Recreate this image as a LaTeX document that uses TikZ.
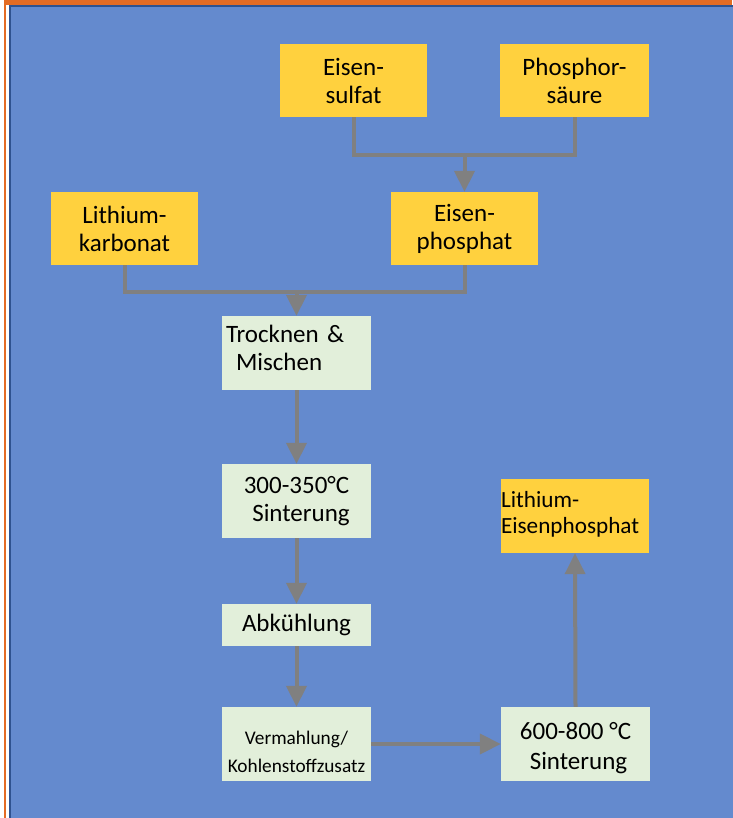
\documentclass[tikz,border=0pt]{standalone}
\usepackage{fontspec}
\setmainfont{Carlito}
\usetikzlibrary{arrows.meta}
\definecolor{bgblue}{RGB}{100,138,206}
\definecolor{bordblue}{RGB}{47,82,143}
\definecolor{frameorange}{RGB}{228,108,36}
\definecolor{boxyellow}{RGB}{255,209,62}
\definecolor{boxgreen}{RGB}{226,239,218}
\definecolor{conngray}{RGB}{128,128,128}
\begin{document}
\begin{tikzpicture}[x=1pt,y=-1pt,
  ybox/.style={fill=boxyellow, inner sep=0pt, minimum width=147pt, minimum height=73pt, align=center, font=\fontsize{25}{28}\selectfont},
  gbox/.style={fill=boxgreen, inner sep=0pt, minimum width=149pt, minimum height=74pt, align=center, font=\fontsize{25}{28}\selectfont},
  conn/.style={draw=conngray, line width=4pt},
  arr/.style={conn, -{Triangle[width=20pt,length=21pt]}}
]
\useasboundingbox (0,0) rectangle (732,818);
% frame
\fill[white] (0,0) rectangle (732,818);
\fill[frameorange] (4,0) rectangle (732,5);
\draw[frameorange, line width=1.5pt] (5,0) -- (5,818);
\fill[bgblue] (9,5) rectangle (740,830);
\draw[bordblue, line width=2pt] (10,830) -- (10,6) -- (740,6);
% nodes
\node[ybox] (sulfat) at (353.5,80.5) {Eisen-\\sulfat};
\node[ybox, minimum width=149pt] (phos) at (574.5,80.5) {Phosphor-\\säure};
\node[ybox] (lkarb) at (124.5,228.5) {Lithium-\\karbonat};
\node[ybox] (ephos) at (464.5,228.5) {Eisen-\\phosphat};
\node[gbox, align=left, text width=149pt] (trock) at (296.5,353) {\hspace*{4pt}Trocknen \&\\\hspace*{14pt}Mischen\rule[-10pt]{0pt}{0pt}};
\node[gbox] (sint1) at (296.5,501) {300-350°C\\\hspace*{9pt}Sinterung};
\node[gbox, minimum height=42pt] (abk) at (296.5,625) {Abkühlung};
\node[gbox, font=\fontsize{19.3}{28}\selectfont] (verm) at (296.5,744) {\rule{0pt}{30pt}Vermahlung/\\Kohlenstoffzusatz};
\node[gbox, font=\fontsize{25}{30}\selectfont] (sint2) at (575.5,744) {\rule{0pt}{26pt}600-800 °C\\\hspace*{6pt}Sinterung};
\node[ybox, minimum width=148pt, minimum height=74pt, align=left, text width=148pt, font=\fontsize{23.2}{26}\selectfont] (lfp) at (575,516) {Lithium-\\Eisenphosphat\rule[-8pt]{0pt}{0pt}};
% connectors
\coordinate (j1) at (464.5,155);
\coordinate (j2) at (296.5,292);
\draw[conn] (sulfat.south) -- (sulfat.south |- j1) -- (phos.south |- j1) -- (phos.south);
\draw[arr] (j1) -- (ephos.north);
\draw[conn] (lkarb.south) -- (lkarb.south |- j2) -- (ephos.south |- j2) -- (ephos.south);
\draw[arr] (j2) -- (trock.north);
\draw[arr] (trock.south) -- (sint1.north);
\draw[arr] (sint1.south) -- (abk.north);
\draw[arr] (abk.south) -- (verm.north);
\draw[arr] (verm.east) -- (sint2.west);
\draw[arr] (sint2.north) -- (lfp.south);
\end{tikzpicture}
\end{document}
